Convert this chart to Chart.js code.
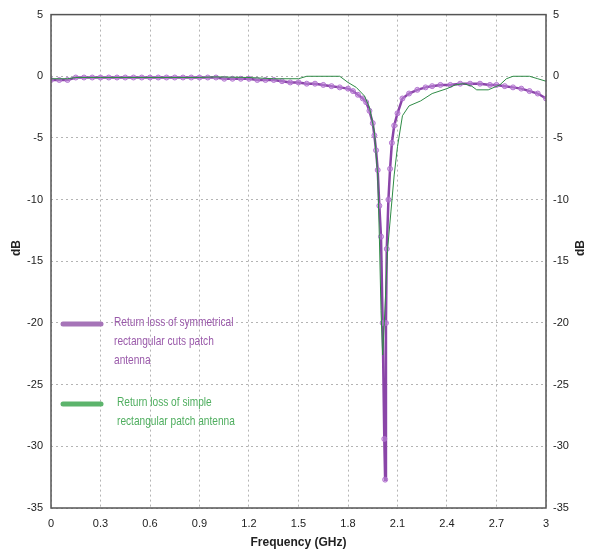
<!DOCTYPE html>
<html>
<head>
<meta charset="utf-8">
<script src="https://cdn.jsdelivr.net/npm/chart.js@4/dist/chart.umd.min.js"></script>
<style>
  html, body { margin: 0; padding: 0; background: #fff; }
  #wrap { width: 599px; height: 555px; position: relative; }
</style>
</head>
<body>
<div id="wrap"><canvas id="grafico"></canvas></div>
<script>
// ejes
const xTicks = [0, 0.3, 0.6, 0.9, 1.2, 1.5, 1.8, 2.1, 2.4, 2.7, 3]
const yTicks = [5, 0, -5, -10, -15, -20, -25, -30, -35]

// serie morada: antena con cortes rectangulares simetricos
const freqCortes = [0, 0.05, 0.1, 0.15, 0.2, 0.25, 0.3, 0.35, 0.4, 0.45, 0.5, 0.55, 0.6, 0.65, 0.7, 0.75, 0.8, 0.85, 0.9, 0.95,
    1.0, 1.05, 1.1, 1.15, 1.2, 1.25, 1.3, 1.35, 1.4, 1.45, 1.5, 1.55, 1.6, 1.65, 1.7, 1.75, 1.8, 1.83, 1.86, 1.89,
    1.91, 1.93, 1.95, 1.96, 1.97, 1.98, 1.99, 2.0, 2.01, 2.02, 2.025, 2.03, 2.035, 2.045, 2.055, 2.066, 2.08, 2.1, 2.13, 2.17,
    2.22, 2.27, 2.31, 2.36, 2.42, 2.48, 2.54, 2.6, 2.66, 2.7, 2.75, 2.8, 2.85, 2.9, 2.95, 3.0]
const dbCortes = [-0.3, -0.3, -0.3, -0.1, -0.1, -0.1, -0.1, -0.1, -0.1, -0.1, -0.1, -0.1, -0.1, -0.1, -0.1, -0.1, -0.1, -0.1, -0.1, -0.1,
    -0.1, -0.2, -0.2, -0.2, -0.2, -0.3, -0.3, -0.3, -0.4, -0.5, -0.5, -0.6, -0.6, -0.7, -0.8, -0.9, -1.0, -1.2, -1.5, -1.8,
    -2.1, -2.8, -3.8, -4.8, -6.0, -7.6, -10.5, -13, -20, -29.4, -32.7, -20, -14, -10, -7.5, -5.4, -4.0, -3.0, -1.8, -1.4,
    -1.1, -0.9, -0.8, -0.7, -0.7, -0.6, -0.6, -0.6, -0.7, -0.7, -0.8, -0.9, -1.0, -1.2, -1.4, -1.8]

// serie verde: antena rectangular simple
const freqSimple = [0, 0.1, 0.15, 0.3, 0.6, 0.9, 1.0, 1.2, 1.35, 1.5, 1.55, 1.75, 1.8, 1.85, 1.9, 1.93, 1.96, 1.98, 1.99, 2.0,
    2.01, 2.02, 2.03, 2.04, 2.06, 2.08, 2.1, 2.13, 2.17, 2.24, 2.31, 2.4, 2.45, 2.5, 2.55, 2.58, 2.65, 2.72, 2.76, 2.8,
    2.9, 2.95, 3.0]
const dbSimple = [-0.2, -0.2, -0.1, -0.1, -0.1, -0.1, -0.05, -0.1, -0.2, -0.2, 0, 0, -0.5, -0.9, -1.6, -2.5, -4.5, -8, -13, -19,
    -22.6, -20, -17, -14, -11, -8, -5.7, -3.2, -2.4, -2.0, -1.4, -1.0, -0.7, -0.6, -0.8, -1.1, -1.1, -0.7, -0.2, 0,
    0, -0.2, -0.4]

const fuente = "'Liberation Sans', Arial, sans-serif"

function puntos(xs, ys) {
    return xs.map((x, i) => ({ x: x, y: ys[i] }))
}

// texto angosto (la fuente original es condensada)
function texto_angosto(ctx, t, x, y, escala) {
    ctx.save()
    ctx.translate(x, y)
    ctx.scale(escala, 1)
    ctx.fillText(t, 0, 0)
    ctx.restore()
}

// plugin para marco, titulos dB y leyenda interna
const extras = {
    id: 'extras',
    afterDraw(chart) {
        const ctx = chart.ctx
        const a = chart.chartArea
        ctx.save()
        // marco
        ctx.strokeStyle = '#555'
        ctx.lineWidth = 1.5
        ctx.strokeRect(a.left, a.top, a.right - a.left, a.bottom - a.top)

        // titulos dB
        ctx.fillStyle = '#222'
        ctx.font = "bold 12px " + fuente
        ctx.textAlign = 'center'
        ctx.textBaseline = 'middle'
        ;[17, 581].forEach(x => {
            ctx.save()
            ctx.translate(x, 248)
            ctx.rotate(-Math.PI / 2)
            ctx.fillText('dB', 0, 0)
            ctx.restore()
        })

        // leyenda
        ctx.lineCap = 'round'
        ctx.lineWidth = 5
        ctx.strokeStyle = '#a674b8'
        ctx.beginPath(); ctx.moveTo(63, 324); ctx.lineTo(101, 324); ctx.stroke()
        ctx.strokeStyle = '#5cb46c'
        ctx.beginPath(); ctx.moveTo(63, 404); ctx.lineTo(101, 404); ctx.stroke()

        ctx.font = "13px " + fuente
        ctx.textAlign = 'left'
        ctx.fillStyle = '#9a5aaa'
        ;['Return loss of symmetrical', 'rectangular cuts patch', 'antenna'].forEach((t, i) => {
            texto_angosto(ctx, t, 114, 322 + i * 19, 0.78)
        })
        ctx.fillStyle = '#4fae5f'
        ;['Return loss of simple', 'rectangular patch antenna'].forEach((t, i) => {
            texto_angosto(ctx, t, 117, 402 + i * 19, 0.78)
        })
        ctx.restore()
    }
}

function dibujar_grafico() {
    const gridCfg = {
        color: '#b4b4b4',
        lineWidth: 1,
        drawTicks: false
    }
    const fuenteTicks = { family: fuente, size: 11 }
    const config = {
        type: 'line',
        data: {
            datasets: [{
                label: 'Return loss of simple rectangular patch antenna',
                data: puntos(freqSimple, dbSimple),
                borderColor: '#2e8b45',
                borderWidth: 1,
                pointRadius: 0,
                tension: 0,
                yAxisID: 'y'
            }, {
                label: 'Return loss of symmetrical rectangular cuts patch antenna',
                data: puntos(freqCortes, dbCortes),
                borderColor: '#8a45a8',
                borderWidth: 2.5,
                pointRadius: 2.5,
                pointBorderWidth: 1,
                pointBorderColor: 'rgba(175, 110, 205, 0.9)',
                pointBackgroundColor: 'rgba(200, 150, 225, 0.5)',
                tension: 0,
                yAxisID: 'y'
            }]
        },
        options: {
            responsive: true,
            maintainAspectRatio: false,
            animation: false,
            layout: { padding: { top: 11, left: 0, right: 0, bottom: 0 } },
            plugins: {
                legend: { display: false },
                tooltip: { enabled: false }
            },
            scales: {
                x: {
                    type: 'linear',
                    min: 0,
                    max: 3,
                    afterBuildTicks: s => { s.ticks = xTicks.map(v => ({ value: v })) },
                    afterFit: s => { s.height = 47 },
                    grid: gridCfg,
                    border: { display: false, dash: [2, 3] },
                    ticks: {
                        color: '#222',
                        padding: 9,
                        maxRotation: 0,
                        autoSkip: false,
                        font: fuenteTicks,
                        callback: v => String(+v.toFixed(1))
                    },
                    title: {
                        display: true,
                        text: 'Frequency (GHz)',
                        color: '#222',
                        padding: { top: 0, bottom: 5 },
                        font: { family: fuente, size: 12, weight: 'bold' }
                    }
                },
                y: {
                    position: 'left',
                    min: -35,
                    max: 5,
                    afterBuildTicks: s => { s.ticks = yTicks.map(v => ({ value: v })) },
                    afterFit: s => { s.width = 51 },
                    grid: gridCfg,
                    border: { display: false, dash: [2, 3] },
                    ticks: {
                        color: '#222',
                        padding: 8,
                        font: fuenteTicks
                    }
                },
                y2: {
                    position: 'right',
                    min: -35,
                    max: 5,
                    afterBuildTicks: s => { s.ticks = yTicks.map(v => ({ value: v })) },
                    afterFit: s => { s.width = 53 },
                    grid: { display: false, drawTicks: false },
                    border: { display: false },
                    ticks: {
                        color: '#222',
                        padding: 7,
                        font: fuenteTicks
                    }
                }
            }
        },
        plugins: [extras]
    }
    const ctx = document.getElementById('grafico').getContext('2d')
    new Chart(ctx, config)
}

document.addEventListener('DOMContentLoaded', () => {
    dibujar_grafico()
})
</script>
</body>
</html>
